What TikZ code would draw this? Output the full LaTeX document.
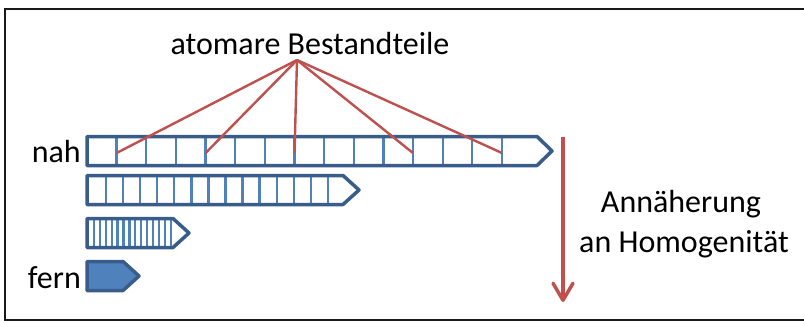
\documentclass[tikz,border=0pt]{standalone}
\usepackage{fontspec}
\setmainfont{Carlito}
\usetikzlibrary{arrows.meta}
\definecolor{barline}{HTML}{385D8A}
\definecolor{barfill}{HTML}{4F81BD}
\definecolor{accred}{HTML}{C0504D}
\tikzset{
  frameline/.style={draw=black!90, line width=2pt},
  barout/.style={draw=barline, line width=3.5pt, line join=round},
  cell/.style={draw=barfill, line width=2.3pt},
  pointer/.style={draw=accred, line width=2.4pt},
  trend/.style={draw=accred, line width=3.5pt,
    -{Straight Barb[length=17pt, width=20pt, line width=3.5pt, round]}},
  lbl/.style={font=\fontsize{32}{39}\selectfont, inner sep=0pt},
}
% one segmented bar: #1 y centre, #2 end of body, #3 tip x, #4 fill colour
\newcommand\segbarbody[4]{%
  \fill[#4] (87,#1-14.5) -- (#2,#1-14.5) -- (#3,#1) -- (#2,#1+14.5) -- (87,#1+14.5) -- cycle;}
\newcommand\segbaroutline[3]{%
  \draw[barout] (87,#1-14.5) -- (#2,#1-14.5) -- (#3,#1) -- (#2,#1+14.5) -- (87,#1+14.5) -- cycle;}
\begin{document}
\begin{tikzpicture}[x=1pt, y=-1pt]
\useasboundingbox (0,0) rectangle (804,322);

% outer frame (right side lies beyond the page)
\draw[frameline] (806,9) -- (5,9) -- (5,320) -- (806,320);

% bar 1 (nah): 15 coarse cells
\segbarbody{151}{537}{552}{white}
\foreach \k in {1,...,14} \draw[cell] ({87+29.64*\k},136.5) -- ({87+29.64*\k},165.5);
\segbaroutline{151}{537}{552}

% bar 2
\segbarbody{190}{343}{359}{white}
\foreach \k in {0,...,13} \draw[cell] ({106+17.07*\k},175.5) -- ({106+17.07*\k},204.5);
\segbaroutline{190}{343}{359}

% bar 3
\segbarbody{233}{173}{189}{white}
\foreach \k in {0,...,13} \draw[cell] ({94+5.9*\k},218.5) -- ({94+5.9*\k},247.5);
\segbaroutline{233}{173}{189}

% bar 4 (fern): homogeneous
\segbarbody{276}{123}{139}{barfill}
\segbaroutline{276}{123}{139}

% labels
\node[lbl, anchor=base] (title) at (310,54) {atomare Bestandteile};
\node[lbl, anchor=base east] (nah) at (81,162) {nah};
\node[lbl, anchor=base east] (fern) at (81,288) {fern};
\node[lbl, anchor=base] (ann1) at (681,212) {Annäherung};
\node[lbl, anchor=base] (ann2) at (684,252) {an Homogenität};

% pointers from the title to single cells
\coordinate (apex) at (297,60);
\coordinate (c1) at (116.6,153);
\coordinate (c4) at (205.6,153);
\coordinate (c7) at (294.5,153);
\coordinate (c11) at (413.0,153);
\coordinate (c14) at (502.0,153);
\foreach \c in {c1,c4,c7,c11,c14} \draw[pointer] (apex) -- (\c);

% downward trend arrow
\coordinate (atop) at (563,137);
\coordinate (abot) at (563,302);
\draw[trend] (atop) -- (abot);
\end{tikzpicture}
\end{document}
